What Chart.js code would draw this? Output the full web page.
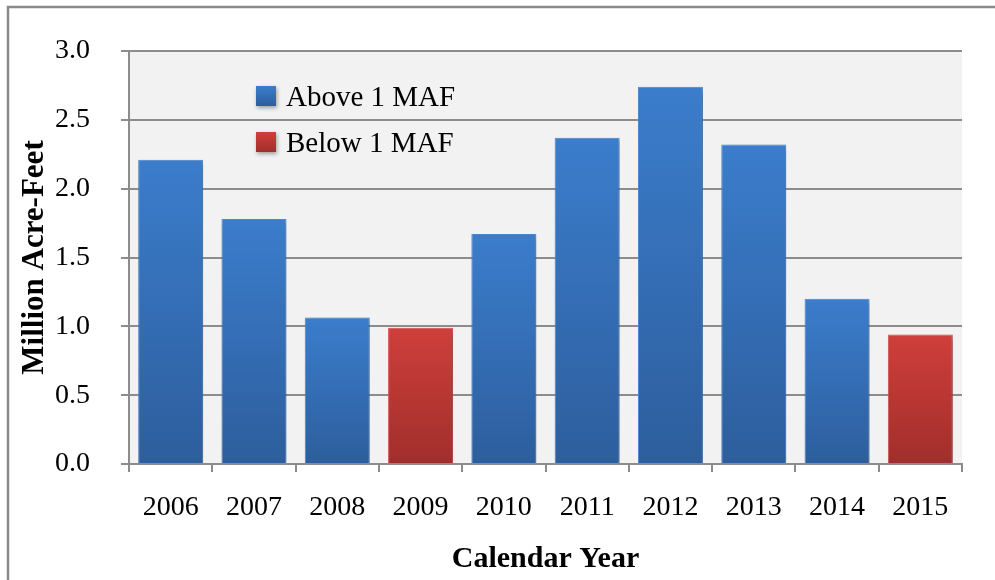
<!DOCTYPE html>
<html>
<head>
<meta charset="utf-8">
<script src="https://cdn.jsdelivr.net/npm/chart.js@4"></script>
<style>
  html, body { margin: 0; padding: 0; background: #fff; }
  #chart { display: block; }
</style>
</head>
<body>
<canvas id="chart" width="995" height="580"></canvas>
<script>
// ── Data ──
const years = ['2006', '2007', '2008', '2009', '2010', '2011', '2012', '2013', '2014', '2015'];
const aboveValues = [2.21, 1.78, 1.065, null, 1.67, 2.37, 2.74, 2.32, 1.20, null];
const belowValues = [null, null, null, 0.99, null, null, null, null, null, 0.94];
const seriesLabels = ['Above 1 MAF', 'Below 1 MAF'];
const yMin = 0;
const yMax = 3;
const yStep = 0.5;

const FONT = "'Liberation Serif', 'Times New Roman', serif";
const GRID = '#8c8c8c';
const PLOT_BG = '#f2f2f2';
const BLUE_TOP = '#3b7dcc', BLUE_BOTTOM = '#2d5e9d', BLUE_EDGE = '#4f8bd3';
const RED_TOP = '#cf3f3b', RED_BOTTOM = '#a12e2b', RED_EDGE = '#d65a56';

// vertical gradient running from the bar's own top down to the baseline
function barGradient(top, bottom) {
  return function (context) {
    const chart = context.chart;
    const y = chart.scales.y;
    if (!chart.chartArea || !y || context.raw == null) return top;
    const g = chart.ctx.createLinearGradient(0, y.getPixelForValue(context.raw), 0, y.getPixelForValue(0));
    g.addColorStop(0, top);
    g.addColorStop(1, bottom);
    return g;
  };
}

// ── Plot background + outer frame ──
const backdrop = {
  id: 'backdrop',
  beforeDraw(chart) {
    const { ctx, chartArea: a } = chart;
    ctx.save();
    ctx.fillStyle = PLOT_BG;
    ctx.fillRect(a.left, a.top, a.right - a.left, a.bottom - a.top);
    ctx.strokeStyle = '#8a8a8a';
    ctx.lineWidth = 2.5;
    ctx.strokeRect(8, 7, 1100, 700);
    ctx.restore();
  },
};

// ── Soft shadow under the bars ──
const barShadow = {
  id: 'barShadow',
  beforeDatasetsDraw(chart) {
    const ctx = chart.ctx;
    ctx.save();
    ctx.shadowColor = 'rgba(0,0,0,0.35)';
    ctx.shadowBlur = 5;
    ctx.shadowOffsetX = 2;
    ctx.shadowOffsetY = 2;
  },
  afterDatasetsDraw(chart) {
    chart.ctx.restore();
  },
};

// ── Legend drawn inside the plot, top-left ──
const innerLegend = {
  id: 'innerLegend',
  afterDraw(chart) {
    const ctx = chart.ctx;
    const colors = [[BLUE_TOP, BLUE_BOTTOM], [RED_TOP, RED_BOTTOM]];
    ctx.save();
    chart.data.datasets.forEach((ds, i) => {
      const x = 256, y = 86 + i * 46, s = 20;
      const g = ctx.createLinearGradient(0, y, 0, y + s);
      g.addColorStop(0, colors[i][0]);
      g.addColorStop(1, colors[i][1]);
      ctx.shadowColor = 'rgba(0,0,0,0.35)';
      ctx.shadowBlur = 4;
      ctx.shadowOffsetX = 1;
      ctx.shadowOffsetY = 2;
      ctx.fillStyle = g;
      ctx.fillRect(x, y, s, s);
      ctx.shadowColor = 'transparent';
      ctx.fillStyle = '#000';
      ctx.font = '29px ' + FONT;
      ctx.textBaseline = 'middle';
      ctx.fillText(ds.label, x + 30, y + s / 2 + 2);
    });
    ctx.restore();
  },
};

new Chart(document.getElementById('chart'), {
  type: 'bar',
  data: {
    labels: years,
    datasets: [
      {
        label: seriesLabels[0],
        data: aboveValues,
        backgroundColor: barGradient(BLUE_TOP, BLUE_BOTTOM),
        borderColor: BLUE_EDGE,
        borderWidth: 1,
        grouped: false,
      },
      {
        label: seriesLabels[1],
        data: belowValues,
        backgroundColor: barGradient(RED_TOP, RED_BOTTOM),
        borderColor: RED_EDGE,
        borderWidth: 1,
        grouped: false,
      },
    ],
  },
  options: {
    responsive: false,
    animation: false,
    devicePixelRatio: 1,
    barPercentage: 0.78,
    categoryPercentage: 1,
    layout: { padding: { top: 51, right: 33, left: 0, bottom: 0 } },
    plugins: { legend: { display: false }, tooltip: { enabled: false } },
    scales: {
      x: {
        afterFit: (s) => { s.height = 116; },
        grid: { display: true, drawOnChartArea: false, drawTicks: true, tickLength: 8, color: GRID, lineWidth: 2 },
        border: { color: GRID, width: 2 },
        ticks: { color: '#000', font: { family: FONT, size: 28 }, padding: 19, maxRotation: 0 },
        title: {
          display: true,
          text: 'Calendar Year',
          color: '#000',
          font: { family: FONT, size: 30, weight: 'bold' },
          padding: { top: 0, bottom: 3 },
        },
      },
      y: {
        min: yMin,
        max: yMax,
        afterFit: (s) => { s.width = 129; },
        grid: { color: GRID, lineWidth: 2, tickLength: 8 },
        border: { color: GRID, width: 2 },
        ticks: {
          stepSize: yStep,
          color: '#000',
          font: { family: FONT, size: 28 },
          padding: 31,
          callback: (v) => v.toFixed(1),
        },
        title: {
          display: true,
          text: 'Million Acre-Feet',
          color: '#000',
          font: { family: FONT, size: 31, weight: 'bold' },
          padding: { top: 16, bottom: 0 },
        },
      },
    },
  },
  plugins: [backdrop, barShadow, innerLegend],
});
</script>
</body>
</html>
